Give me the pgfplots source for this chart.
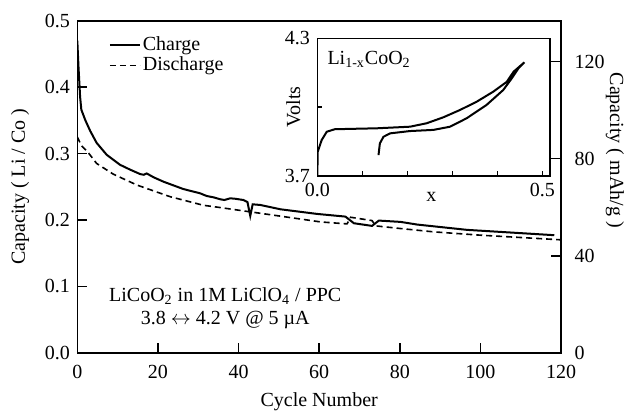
\documentclass[border=0pt]{standalone}
\usepackage{fontspec}
\setmainfont{Liberation Serif}
\usepackage{pgfplots}
\pgfplotsset{compat=1.18}
\begin{document}
\begin{tikzpicture}
\pgfplotsset{
  every axis/.append style={
    /pgf/number format/assume math mode=true,
    line width=0.8pt,
    tick style={line width=0.8pt, black},
  },
}
% main axis (left)
\begin{axis}[
  at={(0,0)}, anchor=south west,
  scale only axis, width=241.9pt, height=166pt,
  xmin=0, xmax=120, ymin=0, ymax=0.5,
  xtick={0,20,40,60,80,100,120},
  ytick={0,0.1,0.2,0.3,0.4,0.5},
  xtick pos=bottom, ytick pos=left,
  tick align=inside, major tick length=5pt,
  yticklabel style={/pgf/number format/.cd, fixed, fixed zerofill, precision=1},
  xticklabel style={yshift=-2.5pt},
  xlabel={Cycle Number},
  xlabel style={at={(axis description cs:0.5,0)}, anchor=center, yshift=-24.5pt},
  ylabel={Capacity ( Li / Co )},
  ylabel style={at={(axis description cs:0,0.5)}, anchor=center, yshift=28.6pt},
  legend style={at={(axis description cs:0.0635,0.962)}, anchor=north west,
    draw=none, fill=none, inner sep=0pt, row sep=0pt,
    nodes={inner sep=1pt}},
  legend cell align=left,
  legend image code/.code={\draw[#1] (0pt,0pt) -- (15pt,0pt);},
]
\addplot[black, line width=1pt] coordinates {
(0,0.470) (0.3,0.430) (0.7,0.385) (1,0.366) (2,0.350) (3.2,0.334) (4.8,0.316)
(7.3,0.298) (10.6,0.283) (13,0.276) (15.6,0.269) (16.5,0.268) (17.2,0.270)
(19,0.264) (21.4,0.2575) (26.3,0.2465) (30.5,0.240) (32.1,0.236) (33.8,0.234)
(35.5,0.231) (36.5,0.230) (37.9,0.2325) (39,0.232) (41.2,0.230) (42.2,0.227)
(42.9,0.206) (43.5,0.2235) (45.4,0.2225) (50.4,0.216) (59.5,0.209) (66.5,0.205)
(68.6,0.195) (73.1,0.191) (74.8,0.199) (80.2,0.197) (84.3,0.193) (96.7,0.185)
(118.3,0.177)
};
\addlegendentry{Charge}
\addplot[black, line width=0.8pt, dash pattern=on 3pt off 2pt] coordinates {
(0,0.325) (1,0.312) (2.5,0.303) (4.8,0.285) (8.9,0.269) (14.8,0.2525) (23,0.235)
(31.3,0.222) (33.8,0.220) (42.5,0.2125) (50,0.206) (60.3,0.197) (66.9,0.194)
(67.8,0.204) (73.1,0.199) (74,0.191) (80.2,0.187) (88.4,0.182) (100,0.177)
(120,0.170)
};
\addlegendentry{Discharge}
\node[align=center, inner sep=0pt, font=\fontsize{10}{11.7}\selectfont]
  at (axis cs:36.7,0.0673)
  {LiCoO\textsubscript{2} in 1M LiClO\textsubscript{4} / PPC\\
   3.8 $\leftrightarrow$ 4.2 V @ 5 µA};
\end{axis}
% right axis
\begin{axis}[
  at={(0,0)}, anchor=south west,
  scale only axis, width=241.9pt, height=166pt,
  xmin=0, xmax=120, ymin=0, ymax=136.9,
  hide x axis, axis y line*=right, clip=false,
  ytick={0,40,80,120},
  yticklabel style={xshift=3pt},
  tick align=inside, major tick length=5pt,
]
\addplot[draw=none] coordinates {(0,0)};
\node[rotate=-90, anchor=center, inner sep=0pt] at (axis description cs:1.111,0.61) {Capacity ( mAh/g )};
\end{axis}
% inset
\begin{axis}[
  at={(120pt,88.5pt)}, anchor=south west,
  scale only axis, width=116.35pt, height=68.7pt,
  axis background/.style={fill=white},
  xmin=0, xmax=0.517, ymin=3.7, ymax=4.3,
  xtick={0,0.1,0.2,0.3,0.4,0.5},
  xticklabels={0.0,,,,,0.5},
  ytick={3.7,4.0,4.3},
  yticklabels={3.7,,4.3},
  xtick pos=bottom, ytick pos=left,
  tick align=inside, major tick length=2.5pt,
  xlabel={x},
  xlabel style={at={(axis description cs:0.49,0)}, anchor=center, yshift=-10.5pt},
  ylabel={Volts},
  ylabel style={at={(axis description cs:0,0.5)}, anchor=center, yshift=12pt},
]
\addplot[black, line width=1pt] coordinates {
(0,3.700) (0.001,3.805) (0.0098,3.856) (0.021,3.892) (0.039,3.903) (0.132,3.907)
(0.206,3.914) (0.243,3.929) (0.28,3.955) (0.317,3.987) (0.354,4.023) (0.391,4.067)
(0.421,4.110) (0.436,4.154) (0.46,4.195)
(0.447,4.169) (0.432,4.125) (0.413,4.074) (0.376,4.009) (0.332,3.951) (0.295,3.914)
(0.258,3.900) (0.206,3.895) (0.162,3.885) (0.147,3.870) (0.139,3.841) (0.136,3.790)
};
\node[anchor=north west, inner sep=0pt] at ([xshift=4.7pt, yshift=-6pt]axis description cs:0,1)
  {Li\textsubscript{1-x}CoO\textsubscript{2}};
\end{axis}
\pgfresetboundingbox
\useasboundingbox (-38.65pt,-30.65pt) rectangle (273.85pt,176.35pt);
\end{tikzpicture}
\end{document}
